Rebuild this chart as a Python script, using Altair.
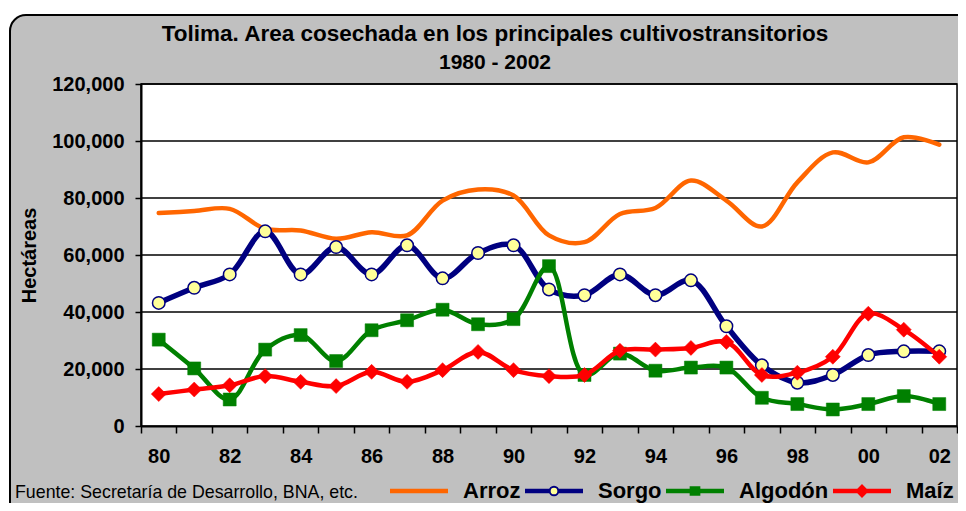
import altair as alt
import pandas as pd

# ---------------- data ----------------
anios = ["80", "81", "82", "83", "84", "85", "86", "87", "88", "89", "90", "91",
         "92", "93", "94", "95", "96", "97", "98", "99", "00", "01", "02"]
arroz = [74700, 75400, 76200, 69200, 68600, 65700, 68000, 66900, 79100, 83000, 80900, 66900,
         64500, 74400, 76500, 86100, 79100, 70000, 85500, 96000, 92500, 101300, 98700]
sorgo = [43200, 48500, 53200, 68300, 53200, 62800, 53200, 63400, 51800, 60700, 63400, 47900,
         45900, 53200, 45900, 51100, 35000, 21300, 15200, 17900, 24900, 26200, 26200]
algodon = [30300, 20200, 9300, 26800, 31900, 22800, 33600, 37100, 40800, 35700, 37500, 56100,
           17900, 25400, 19400, 20500, 20500, 9900, 7700, 5800, 7700, 10500, 7700]
maiz = [11200, 12800, 14300, 17500, 15500, 14000, 19000, 15500, 19600, 26000, 19600, 17500,
        17900, 26400, 26800, 27400, 29500, 17900, 18700, 24300, 39400, 33800, 24300]

series = ["Arroz", "Sorgo", "Algodón", "Maíz"]
colores = ["#FF6600", "#000080", "#008000", "#FF0000"]
rellenos = ["#FF6600", "#FFFF99", "#008000", "#FF0000"]
y_ticks = [0, 20000, 40000, 60000, 80000, 100000, 120000]
grid_vals = [20000, 40000, 60000, 80000, 100000, 120000]

titulo = "Tolima. Area cosechada en los principales cultivostransitorios"
subtitulo = "1980 - 2002"
fuente = "Fuente: Secretaría de Desarrollo, BNA, etc."
y_titulo = "Hectáreas"

# ---------------- layout / style ----------------
W, H = 816, 342
FONT = "Liberation Sans"

rows = []
for s, vals in zip(series, [arroz, sorgo, algodon, maiz]):
    for a, v in zip(anios, vals):
        rows.append({"anio": a, "serie": s, "valor": v})
df = pd.DataFrame(rows)
one = pd.DataFrame({"k": [0]})
grid_df = pd.DataFrame({"valor": grid_vals})

x_axis = alt.Axis(
    tickBand="extent", grid=False, domainColor="black", domainWidth=2,
    tickColor="black", tickWidth=1.5, tickSize=7, labelFont=FONT, labelFontSize=20,
    labelFontWeight="bold", labelColor="black", labelAngle=0, labelPadding=13,
    labelOverlap=False, labelExpr="parseInt(datum.value) % 2 == 0 ? datum.label : ''",
    zindex=1, title=None,
)
y_axis = alt.Axis(
    values=y_ticks, format=",.0f", grid=False, domainColor="black", domainWidth=2,
    tickColor="black", tickWidth=1.5, tickSize=6, labelFont=FONT, labelFontSize=20,
    labelFontWeight="bold", labelColor="black", labelPadding=11,
    titleFont=FONT, titleFontSize=20, titleFontWeight="bold", titleColor="black",
    titlePadding=12, zindex=1,
)
x_scale = alt.Scale(type="band", domain=anios, paddingInner=0, paddingOuter=0)
y_scale = alt.Scale(domain=[0, 120000], nice=False, zero=True)


def xenc():
    return alt.X("anio:N", sort=anios, scale=x_scale, bandPosition=0.5, axis=x_axis, title=None)


def yenc(field="valor:Q"):
    return alt.Y(field, scale=y_scale, axis=y_axis, title=y_titulo)


layers = []

# outer rounded frame (chart area)
layers.append(
    alt.Chart(one).mark_rect(fill="#C0C0C0", stroke="black", strokeWidth=2, cornerRadius=16)
    .encode(x=alt.value(-131), x2=alt.value(W + 20), y=alt.value(-69), y2=alt.value(H + 100))
)
# plot area
layers.append(
    alt.Chart(one).mark_rect(fill="white", stroke="black", strokeWidth=1.5)
    .encode(x=alt.value(0), x2=alt.value(W), y=alt.value(0), y2=alt.value(H))
)
# gridlines
layers.append(
    alt.Chart(grid_df).mark_rule(color="black", strokeWidth=1.3).encode(y=yenc())
)

marker_specs = {
    "Sorgo": dict(shape="circle", size=156, fill="#FFFF99", stroke="#000080", strokeWidth=1.5),
    "Algodón": dict(shape="square", size=169, fill="#008000", stroke="#008000", strokeWidth=0.5),
    "Maíz": dict(shape="diamond", size=225, fill="#FF0000", stroke="#FF0000", strokeWidth=0.5),
}
widths = {"Arroz": 4.5, "Sorgo": 5.5, "Algodón": 4.5, "Maíz": 4.5}

for s, c in zip(series, colores):
    base = alt.Chart(df).transform_filter(alt.datum.serie == s)
    layers.append(
        base.mark_line(color=c, strokeWidth=widths[s], interpolate="catmull-rom",
                       strokeJoin="round", strokeCap="round")
        .encode(x=xenc(), y=yenc())
    )
    if s in marker_specs:
        layers.append(
            base.mark_point(filled=True, opacity=1, **marker_specs[s]).encode(x=xenc(), y=yenc())
        )

# legend (legend-only layer, no visible points)
band = "M-1,-0.045L1,-0.045M-1,0L1,0M-1,0.045L1,0.045"
paths = [
    band,
    "M-1,-0.045L-0.15,-0.045M0.15,-0.045L1,-0.045M-1,0L-0.15,0M0.15,0L1,0"
    "M-1,0.045L-0.15,0.045M0.15,0.045L1,0.045"
    "M-0.15,0A0.15,0.15,0,1,0,0.15,0A0.15,0.15,0,1,0,-0.15,0Z",
    band + "M-0.15,-0.13L0.15,-0.13L0.15,0.13L-0.15,0.13Z",
    band + "M0,-0.19L0.19,0L0,0.19L-0.19,0Z",
]
leg = alt.Legend(
    title=None, orient="none", legendX=248, legendY=377, direction="horizontal",
    symbolSize=3364, symbolStrokeWidth=2, symbolOpacity=1,
    labelFont=FONT, labelFontSize=22, labelFontWeight="bold", labelColor="black",
    labelOffset=14, columnPadding=0, padding=0, zindex=1, labelLimit=300,
)
layers.append(
    alt.Chart(df).transform_filter("datum.valor < 0")
    .mark_point(filled=True, opacity=1, strokeWidth=2)
    .encode(
        shape=alt.Shape("serie:N", scale=alt.Scale(domain=series, range=paths), legend=leg),
        fill=alt.Fill("serie:N", scale=alt.Scale(domain=series, range=rellenos), legend=leg),
        stroke=alt.Stroke("serie:N", scale=alt.Scale(domain=series, range=colores), legend=leg),
    )
)

# titles and source note
layers.append(
    alt.Chart(one).mark_text(text=titulo, font=FONT, fontSize=22.5, fontWeight="bold",
                             color="black", align="center", baseline="middle")
    .encode(x=alt.value(354), y=alt.value(-50))
)
layers.append(
    alt.Chart(one).mark_text(text=subtitulo, font=FONT, fontSize=21, fontWeight="bold",
                             color="black", align="center", baseline="middle")
    .encode(x=alt.value(354), y=alt.value(-21))
)
layers.append(
    alt.Chart(one).mark_text(text=fuente, font=FONT, fontSize=17.8, color="black",
                             align="left", baseline="middle")
    .encode(x=alt.value(-126), y=alt.value(409))
)

chart = alt.layer(*layers).properties(
    width=W, height=H,
    autosize=alt.AutoSizeParams(type="none"),
    padding={"left": 133, "top": 76, "right": 1, "bottom": 77},
    background="white",
).configure_view(stroke=None)

chart.save("out.html", embed_options={"renderer": "svg", "actions": False})
